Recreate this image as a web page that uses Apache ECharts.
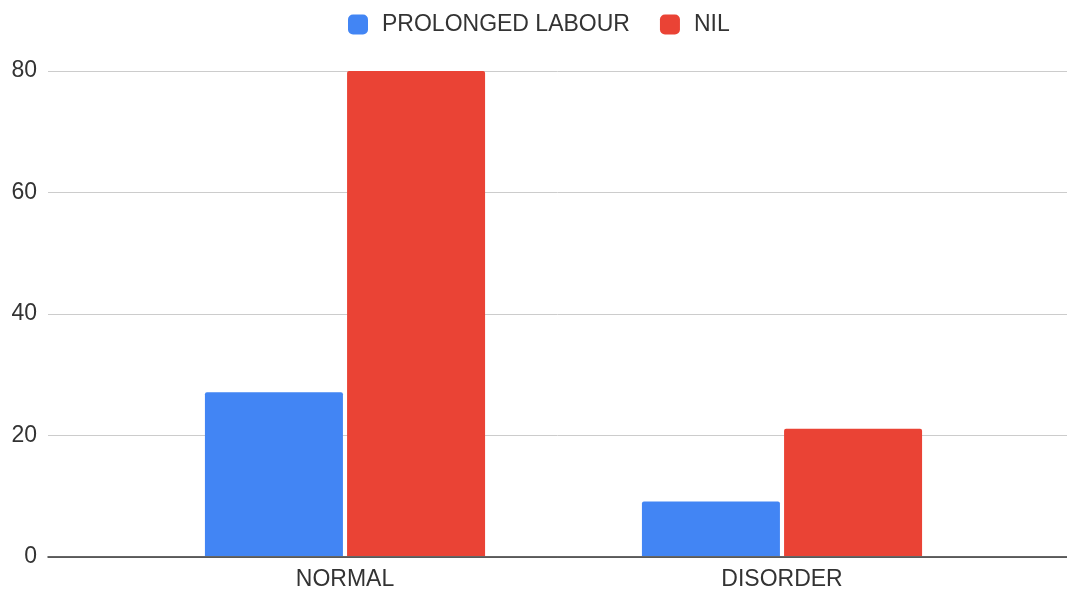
<!DOCTYPE html>
<html>
<head>
<meta charset="utf-8">
<script src="https://cdn.jsdelivr.net/npm/echarts@6/dist/echarts.min.js"></script>
<style>
  html, body { margin: 0; padding: 0; background: #fff; }
  #chart { width: 1067px; height: 591px; }
</style>
</head>
<body>
<div id="chart"></div>
<script>
const categories = ['NORMAL', 'DISORDER']
const prolongedLabour = [27, 9]
const nil = [80, 21]
const yTicks = [0, 20, 40, 60, 80]

const labelColor = '#333'
const font = 'Arial, "Liberation Sans", sans-serif'

const chart = echarts.init(document.getElementById('chart'))

const option = {
  backgroundColor: '#fff',
  animation: false,
  legend: {
    top: 8,
    left: 343,
    itemWidth: 20,
    itemHeight: 20,
    itemGap: 30,
    icon: 'roundRect',
    textStyle: { color: labelColor, fontSize: 23, fontFamily: font, padding: [0, 0, 0, 9] },
    data: ['PROLONGED LABOUR', 'NIL']
  },
  grid: [
    { left: 48, right: 0, top: 71, bottom: 34 },
    { left: 126.5, width: 874, top: 71, bottom: 34 }
  ],
  xAxis: [
    {
      gridIndex: 0,
      type: 'category',
      data: categories,
      axisLine: { lineStyle: { color: '#333', width: 1.5 } },
      axisTick: { show: false },
      axisLabel: { show: false }
    },
    {
      gridIndex: 1,
      type: 'category',
      data: categories,
      axisLine: { show: false },
      axisTick: { show: false },
      axisLabel: { color: labelColor, fontSize: 23, fontFamily: font, margin: 12 }
    }
  ],
  yAxis: [
    {
      gridIndex: 0,
      type: 'value',
      min: yTicks[0],
      max: yTicks[yTicks.length - 1],
      interval: 20,
      axisLine: { show: false },
      axisTick: { show: false },
      axisLabel: { color: labelColor, fontSize: 23, fontFamily: font, margin: 11 },
      splitLine: { lineStyle: { color: '#ccc', width: 1 } }
    },
    {
      gridIndex: 1,
      type: 'value',
      min: yTicks[0],
      max: yTicks[yTicks.length - 1],
      interval: 20,
      show: false,
      splitLine: { show: false }
    }
  ],
  series: [
    {
      name: 'PROLONGED LABOUR',
      type: 'bar',
      xAxisIndex: 1,
      yAxisIndex: 1,
      data: prolongedLabour,
      barWidth: 138,
      barGap: '3%',
      itemStyle: { color: '#4285f4', borderRadius: [2, 2, 0, 0] }
    },
    {
      name: 'NIL',
      type: 'bar',
      xAxisIndex: 1,
      yAxisIndex: 1,
      data: nil,
      barWidth: 138,
      barGap: '3%',
      itemStyle: { color: '#ea4335', borderRadius: [2, 2, 0, 0] }
    }
  ]
}

chart.setOption(option)
window.addEventListener('resize', () => {
  chart.resize()
})
</script>
</body>
</html>
